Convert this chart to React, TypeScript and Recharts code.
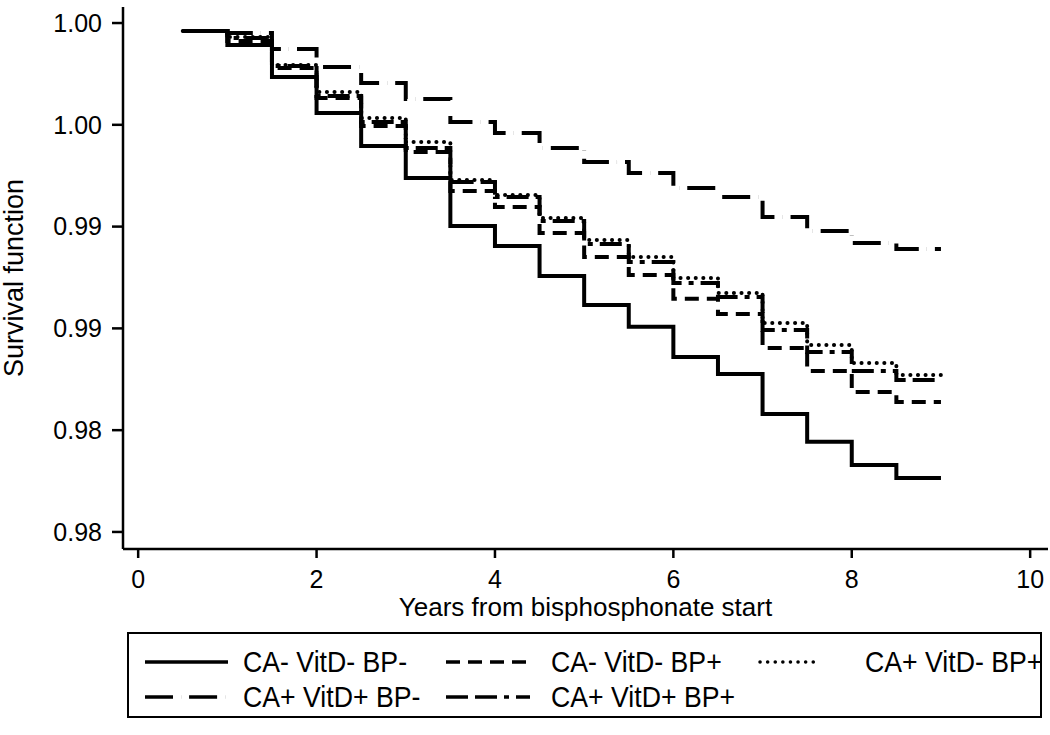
import React from "react";
import { LineChart, Line, XAxis, YAxis } from "recharts";

// survival estimates, one value per half-year step (last value repeated at 9 y)
const years = [0.5, 1, 1.5, 2, 2.5, 3, 3.5, 4, 4.5, 5, 5.5, 6, 6.5, 7, 7.5, 8, 8.5, 9];

const caNoVitdNoBpNo = [
  0.99969, 0.99914, 0.99788, 0.99646, 0.99517, 0.99391, 0.99202, 0.99124, 0.99006,
  0.98892, 0.98806, 0.98688, 0.98621, 0.98464, 0.98354, 0.98263, 0.98212, 0.98212,
];
const caNoVitdNoBpYes = [
  0.99969, 0.99929, 0.99823, 0.99705, 0.99595, 0.99493, 0.9934, 0.99277, 0.99175,
  0.99081, 0.9901, 0.98916, 0.98857, 0.98723, 0.98633, 0.9855, 0.98511, 0.98511,
];
const caYesVitdNoBpYes = [
  0.99969, 0.99945, 0.99835, 0.99729, 0.99627, 0.99532, 0.99383, 0.99324, 0.99234,
  0.99147, 0.99081, 0.98998, 0.98939, 0.98821, 0.98735, 0.98664, 0.98617, 0.98617,
];
const caYesVitdYesBpNo = [
  0.99969, 0.99961, 0.99898, 0.99827, 0.99764, 0.99701, 0.99611, 0.99568, 0.99509,
  0.99454, 0.99411, 0.99352, 0.99316, 0.99238, 0.99183, 0.99136, 0.99112, 0.99112,
];
const caYesVitdYesBpYes = [
  0.99969, 0.99941, 0.99831, 0.99713, 0.99611, 0.99509, 0.99375, 0.99316, 0.99222,
  0.99132, 0.99061, 0.98978, 0.98923, 0.98794, 0.98707, 0.98633, 0.98597, 0.98597,
];

const xTicks = [0, 2, 4, 6, 8, 10];
const yTicks = [0.98, 0.984, 0.988, 0.992, 0.996, 1.0];

const series = [
  { key: "s1", name: "CA- VitD- BP-", values: caNoVitdNoBpNo, dash: undefined },
  { key: "s2", name: "CA- VitD- BP+", values: caNoVitdNoBpYes, dash: "14 8" },
  { key: "s3", name: "CA+ VitD- BP+", values: caYesVitdNoBpYes, dash: "0.1 7.5" },
  { key: "s4", name: "CA+ VitD+ BP-", values: caYesVitdYesBpNo, dash: "28 8 0.1 8" },
  { key: "s5", name: "CA+ VitD+ BP+", values: caYesVitdYesBpYes, dash: "22 7 22 7 5 7" },
];

const data = years.map((t, i) => {
  const row: Record<string, number> = { t };
  series.forEach((s) => (row[s.key] = s.values[i]));
  return row;
});

const FONT = "'Liberation Sans', Arial, Helvetica, sans-serif";
const tickStyle = { fontSize: 25, fill: "#000", fontFamily: FONT };

// legend slots: [sample start, sample end, text x, row]
const legendSlots = [
  [18, 101, 116, 0],
  [319, 403, 424, 0],
  [633, 693, 738, 0],
  [18, 101, 116, 1],
  [319, 403, 424, 1],
];

function KmLegend() {
  return (
    <svg width={915} height={86} style={{ position: "absolute", left: 127, top: 632 }}>
      <rect x={1} y={1} width={913} height={84} fill="#fff" stroke="#000" strokeWidth={2} />
      {series.map((s, i) => {
        const [x1, x2, tx, row] = legendSlots[i];
        const cy = row === 0 ? 30 : 65;
        return (
          <g key={s.key}>
            <line x1={x1} x2={x2} y1={cy} y2={cy} stroke="#000" strokeWidth={3.5}
              strokeDasharray={s.dash} strokeLinecap={s.key === "s3" ? "round" : "butt"} />
            <text transform={`translate(${tx},${cy + 10}) scale(0.92,1)`} fontSize={29} fontFamily={FONT}>
              {s.name}
            </text>
          </g>
        );
      })}
    </svg>
  );
}

export default function App() {
  return (
    <div style={{ position: "absolute", left: 0, top: 0, width: 1050, height: 735, background: "#fff", fontFamily: FONT }}>
      <LineChart width={1050} height={640} data={data} margin={{ top: 7, right: 2, left: 0, bottom: 0 }}>
        <XAxis
          dataKey="t"
          type="number"
          domain={[-0.17, 10.2]}
          ticks={xTicks}
          allowDataOverflow
          height={91}
          axisLine={{ stroke: "#000", strokeWidth: 2.5 }}
          tickLine={{ stroke: "#000", strokeWidth: 2.5 }}
          tickSize={9}
          tickMargin={12}
          tick={tickStyle}
          label={{ value: "Years from bisphosphonate start", position: "insideBottom", offset: 24, fontSize: 26, fill: "#000", fontFamily: FONT }}
        />
        <YAxis
          type="number"
          domain={[0.97933, 1.00063]}
          ticks={yTicks}
          allowDataOverflow
          width={123}
          tickFormatter={(v: number) => v.toFixed(2)}
          axisLine={{ stroke: "#000", strokeWidth: 2.5 }}
          tickLine={{ stroke: "#000", strokeWidth: 2.5 }}
          tickSize={11}
          tickMargin={10}
          tick={tickStyle}
          label={{
            content: () => (
              <text x={23} y={278} transform="rotate(-90 23 278)" textAnchor="middle" fontSize={27} fill="#000" fontFamily={FONT}>
                Survival function
              </text>
            ),
          }}
        />
        {series.map((s) => (
          <Line
            key={s.key}
            dataKey={s.key}
            name={s.name}
            type="stepAfter"
            stroke="#000"
            strokeWidth={4}
            strokeDasharray={s.dash}
            strokeLinecap={s.key === "s3" ? "round" : "butt"}
            dot={false}
            isAnimationActive={false}
          />
        ))}
      </LineChart>
      <KmLegend />
    </div>
  );
}
